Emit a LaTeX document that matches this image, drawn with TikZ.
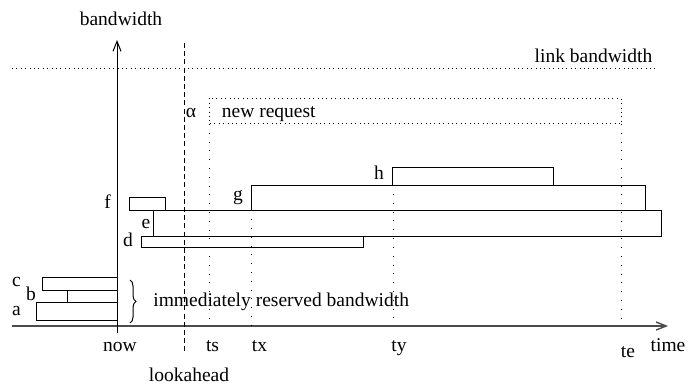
\documentclass[tikz,border=0pt]{standalone}
\usepackage{fontspec}
\setmainfont{Liberation Serif}
\usepackage{tikz}
\usetikzlibrary{arrows.meta, positioning, calc, decorations.pathreplacing}

\tikzset{
  lbl/.style={inner sep=0pt, anchor=base, font=\fontsize{9.75}{11}\selectfont},
  resbox/.style={draw, line width=0.5pt},
  axis/.style={draw=black!70, line width=0.7pt, -{Straight Barb[length=5pt,width=4pt]}},
  timemark/.style={dash pattern=on 0.4pt off 4pt, line width=0.5pt},
  limit/.style={dash pattern=on 0.4pt off 1.8pt, line width=0.5pt}
}

\begin{document}
\begin{tikzpicture}[x=0.5pt, y=-0.5pt]
  \useasboundingbox (0,0) rectangle (688,384);

  % axes
  \coordinate (origin) at (117,326);
  \coordinate (tend) at (668,326);
  \coordinate (bwtop) at (117,40);
  \draw[axis] (12,326) -- (tend);
  \draw[line width=0.5pt, -{Straight Barb[length=5pt,width=4pt]}] (117,333) -- (bwtop);
  \node[lbl] (bwlabel) at (121,26) {bandwidth};
  \node[lbl] (timelabel) at (668,351.7) {time};

  % link capacity
  \draw[limit] (12,69) -- (658,69);
  \node[lbl] (linklabel) at (593.5,62.3) {link bandwidth};

  % lookahead window
  \coordinate (lookup) at (184,43);
  \coordinate (lookdown) at (184,354);
  \draw[dash pattern=on 2.5pt off 1.6pt, line width=0.5pt] (lookup) -- (lookdown);
  \node[lbl] (alpha) at (191,118) {α};
  \node[lbl] (lookahead) at (189,381) {lookahead};

  % the new request
  \coordinate (rqnw) at (209,98.5);
  \coordinate (rqse) at (621,124);
  \draw[limit] (rqnw) rectangle (rqse);
  \node[lbl, anchor=base west] (rqlabel) at (221.5,118) {new request};

  % reservations
  \draw[resbox] (392,167.3) rectangle (553,185.3);
  \draw[resbox] (251.7,185.3) rectangle (645,210.3);
  \draw[resbox] (129,197.7) rectangle (165.3,210.3);
  \draw[resbox] (153.3,210.3) rectangle (661.7,236);
  \draw[resbox] (141,236.3) rectangle (363.5,247.3);
  \draw[resbox] (42.5,277.7) rectangle (117,290);
  \draw[resbox] (67.3,290) rectangle (117,302.3);
  \draw[resbox] (36,302.3) rectangle (117,320.7);
  \node[lbl] (hlabel) at (379,179.3) {h};
  \node[lbl] (glabel) at (238,200) {g};
  \node[lbl] (flabel) at (107.5,209) {f};
  \node[lbl] (elabel) at (146,228) {e};
  \node[lbl] (dlabel) at (128,246.5) {d};
  \node[lbl] (clabel) at (16.5,286.5) {c};
  \node[lbl] (blabel) at (31,300) {b};
  \node[lbl] (alabel) at (16.5,315) {a};

  % time marks
  \draw[timemark] (209,124) -- (209,326);
  \draw[timemark] (251.7,210.3) -- (251.7,326);
  \draw[timemark] (393.3,185.3) -- (393.3,326);
  \draw[timemark] (621,124) -- (621,326);
  \node[lbl] (now) at (120,351.7) {now};
  \node[lbl] (ts) at (212.5,351.7) {ts};
  \node[lbl] (tx) at (259.5,351.7) {tx};
  \node[lbl] (ty) at (399,351.7) {ty};
  \node[lbl] (te) at (628,357) {te};

  % bandwidth reserved right away
  \draw[line width=0.5pt, decorate, decoration={brace, amplitude=3pt}] (130,280) -- (130,323);
  \node[lbl, anchor=base west] (immlabel) at (153,306.7) {immediately reserved bandwidth};
\end{tikzpicture}
\end{document}
